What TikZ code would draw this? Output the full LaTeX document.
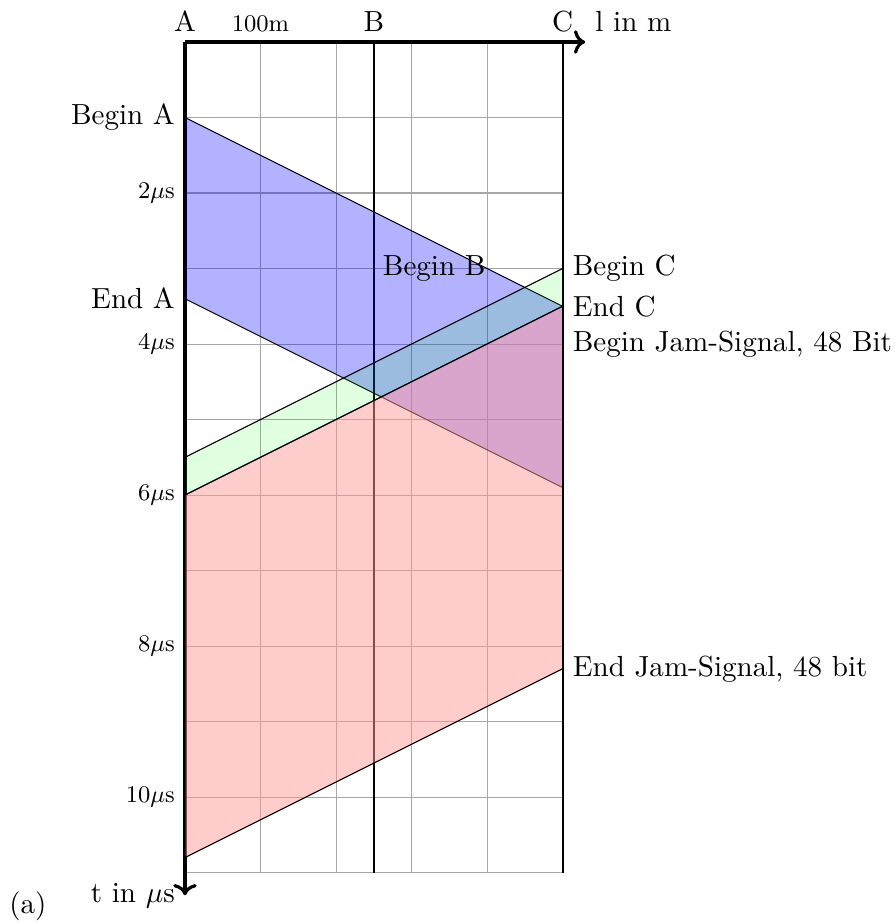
\documentclass[tikz,border=0pt,11pt]{standalone}
\usepackage{amsmath,amssymb}
\usepackage{tikz}
\usetikzlibrary{positioning, arrows.meta, calc}

\begin{document}
\begin{tikzpicture}[
    axis/.style={very thick, ->},
    station/.style={thick},
    signal/.style={draw=black, thin},
    tlabel/.style={font=\fontsize{9}{11}\selectfont, left},
    rlabel/.style={right}
  ]
    \useasboundingbox (-2.45,0.556) rectangle (9.39,-11.68);

    % Grid and stations
    \draw[gray!70, thin] (0,0) grid (5,-11);
    \draw[station] (2.5,0) -- (2.5,-11);
    \draw[station] (5,0) -- (5,-11);
    \draw[axis] (0,0) -- (5.3,0);
    \draw[axis] (0,0) -- (0,-11.3);

    % Frame of A, frame of C, jam signal
    \filldraw[signal, fill=blue, fill opacity=0.3]
      (0,-1) -- (5,-3.5) -- (5,-5.9) -- (0,-3.4) -- cycle;
    \filldraw[signal, fill=green, fill opacity=0.12]
      (5,-3) -- (0,-5.5) -- (0,-6) -- (5,-3.5) -- cycle;
    \filldraw[signal, fill=red!40, fill opacity=0.5]
      (5,-3.5) -- (0,-6) -- (0,-10.8) -- (5,-8.3) -- cycle;

    % Top labels
    \node[above] (la) at (0,0) {A};
    \node[above, font=\fontsize{9}{11}\selectfont] (lhm) at (1,0) {100m};
    \node[above] (lb) at (2.5,0) {B};
    \node[above] (lc) at (5,0) {C};
    \node[above right] (lx) at (5.3,0) {l in m};
    \node[left] (lt) at (0,-11.3) {t in $\mu$s};
    \node (sub) at (-2.08,-11.45) {(a)};

    % Left labels
    \node[left] (beginA) at (0,-1) {Begin A};
    \node[left] (endA) at (0,-3.4) {End A};
    \foreach \t in {2,4,6,8,10}
      \node[tlabel] (t\t) at (0,-\t) {\t$\mu$s};

    % Right labels
    \node (beginB) at (3.3,-3) {Begin B};
    \node[rlabel] (beginC) at (5,-3) {Begin C};
    \node[rlabel] (endC) at (5,-3.5) {End C};
    \node[rlabel] (beginJ) at (5,-4) {Begin Jam-Signal, 48 Bit};
    \node[rlabel] (endJ) at (5,-8.3) {End Jam-Signal, 48 bit};
  \end{tikzpicture}
\end{document}
